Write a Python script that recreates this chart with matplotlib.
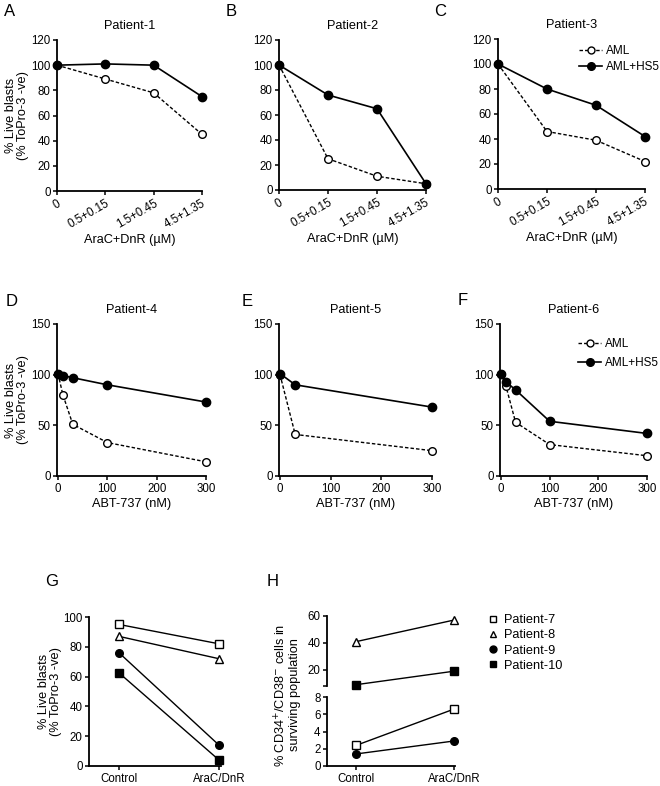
import numpy as np
import matplotlib
matplotlib.use("Agg")
import matplotlib.pyplot as plt
from matplotlib.lines import Line2D

plt.rcParams['font.family'] = ['Liberation Sans', 'DejaVu Sans']
plt.rcParams['font.size'] = 8.3
plt.rcParams['axes.linewidth'] = 1.3
plt.rcParams['xtick.major.width'] = 1.1
plt.rcParams['ytick.major.width'] = 1.1
plt.rcParams['xtick.major.size'] = 3
plt.rcParams['ytick.major.size'] = 3
plt.rcParams['xtick.major.pad'] = 2
plt.rcParams['ytick.major.pad'] = 1.5

# AraC+DnR dose response (panels A-C)
dose_labels = ['0', '0.5+0.15', '1.5+0.45', '4.5+1.35']
aml_p1 = [100, 89, 78, 45]
hs5_p1 = [100, 101, 100, 75]
aml_p2 = [100, 25, 11, 5]
hs5_p2 = [100, 76, 65, 5]
aml_p3 = [100, 46, 39, 22]
hs5_p3 = [100, 80, 67, 42]

# ABT-737 dose response (panels D-F)
abt_p4 = [0, 10, 30, 100, 300]
aml_p4 = [101, 80, 51, 33, 14]
hs5_p4 = [101, 99, 97, 90, 73]
abt_p5 = [0, 30, 300]
aml_p5 = [100, 41, 25]
hs5_p5 = [101, 90, 68]
abt_p6 = [0, 10, 30, 100, 300]
aml_p6 = [101, 89, 53, 31, 20]
hs5_p6 = [101, 93, 85, 54, 42]

# panels G and H
conditions = ['Control', 'AraC/DnR']
patients = ['Patient-7', 'Patient-8', 'Patient-9', 'Patient-10']
live_blasts = [[95, 82], [87, 72], [76, 14], [62.5, 4]]
cd34_cd38 = [[2.4, 6.6], [41, 57], [1.4, 2.9], [9, 19]]

W, H = 660, 786
fig = plt.figure(figsize=(W / 100, H / 100), dpi=100)


def box(l, t, r, b):
    return [l / W, 1 - b / H, (r - l) / W, (b - t) / H]


def style(ax):
    ax.spines['top'].set_visible(False)
    ax.spines['right'].set_visible(False)
    ax.tick_params(direction='out', colors='black')


def plot_pair(ax, x, aml, hs5):
    ax.plot(x, aml, ls=(0, (2.5, 1.5)), color='black', lw=1.0, marker='o', ms=5.5,
            mfc='white', mec='black', mew=1.0, clip_on=False, zorder=3)
    ax.plot(x, hs5, ls='-', color='black', lw=1.2, marker='o', ms=6,
            mfc='black', mec='black', clip_on=False, zorder=4)


def add_legend(ax, loc_xy, spacing):
    handles = [Line2D([], [], ls=(0, (2.5, 1.5)), color='black', lw=1.0, marker='o', ms=5,
                      mfc='white', mec='black'),
               Line2D([], [], ls='-', color='black', lw=1.2, marker='o', ms=5.5,
                      mfc='black', mec='black')]
    ax.legend(handles, ['AML', 'AML+HS5'], loc='upper left', bbox_to_anchor=loc_xy,
              bbox_transform=fig.transFigure, frameon=False, handlelength=2.0,
              handletextpad=0.3, labelspacing=spacing, fontsize=8.5, borderaxespad=0)


ylabel = '% Live blasts\n(% ToPro-3 -ve)'

# top row
top_boxes = [box(57, 40, 202, 191), box(279, 40, 426, 190), box(498, 39, 645, 189)]
top_data = [(aml_p1, hs5_p1), (aml_p2, hs5_p2), (aml_p3, hs5_p3)]
for i, (b, (aml, hs5)) in enumerate(zip(top_boxes, top_data)):
    ax = fig.add_axes(b)
    style(ax)
    plot_pair(ax, range(4), aml, hs5)
    ax.set_xlim(0, 3)
    ax.set_ylim(0, 120)
    ax.set_yticks(range(0, 121, 20))
    ax.set_xticks(range(4))
    ax.set_xticklabels(dose_labels, rotation=30, ha='right', rotation_mode='anchor')
    ax.set_xlabel('AraC+DnR (\u00b5M)', fontsize=9.2, labelpad=2)
    ax.set_title('Patient-%d' % (i + 1), fontsize=9.2, pad=8)
    if i == 0:
        ax.set_ylabel(ylabel, fontsize=9.2, labelpad=2, linespacing=1.0)
    if i == 2:
        add_legend(ax, (574 / W, 1 - 40 / H), 0.4)

# middle row
mid_boxes = [box(57, 324, 206, 476), box(279, 324, 432, 476), box(500, 324, 647, 476)]
mid_data = [(abt_p4, aml_p4, hs5_p4), (abt_p5, aml_p5, hs5_p5), (abt_p6, aml_p6, hs5_p6)]
for i, (b, (x, aml, hs5)) in enumerate(zip(mid_boxes, mid_data)):
    ax = fig.add_axes(b)
    style(ax)
    plot_pair(ax, x, aml, hs5)
    ax.set_xlim(-2, 300)
    ax.set_ylim(0, 150)
    ax.set_yticks([0, 50, 100, 150])
    ax.set_xticks([0, 100, 200, 300])
    ax.set_xlabel('ABT-737 (nM)', fontsize=9.2, labelpad=2)
    ax.set_title('Patient-%d' % (i + 4), fontsize=9.2, pad=8)
    if i == 0:
        ax.set_ylabel(ylabel, fontsize=9.2, labelpad=2, linespacing=1.0)
    if i == 2:
        add_legend(ax, (573 / W, 1 - 333 / H), 0.6)

# panel G
marker_styles = [dict(marker='s', mfc='white'), dict(marker='^', mfc='white'),
                 dict(marker='o', mfc='black'), dict(marker='s', mfc='black')]
axg = fig.add_axes(box(89, 617, 221, 766))
style(axg)
for vals, ms in zip(live_blasts, marker_styles):
    axg.plot([0, 1], vals, color='black', lw=1.0, ms=5.5, mec='black', mew=1.0,
             clip_on=False, **ms)
axg.set_xlim(-0.3, 1.02)
axg.set_ylim(0, 100)
axg.set_yticks(range(0, 101, 20))
axg.set_xticks([0, 1])
axg.set_xticklabels(conditions)
axg.set_ylabel(ylabel, fontsize=9.2, labelpad=1, linespacing=1.0)

# panel H (broken y axis): top segment holds patients 8 and 10, bottom 7 and 9
axh_top = fig.add_axes(box(327, 616, 455, 686))
axh_bot = fig.add_axes(box(327, 697, 455, 766))
for ax, idx in ((axh_top, [1, 3]), (axh_bot, [0, 2])):
    style(ax)
    for k in idx:
        ax.plot([0, 1], cd34_cd38[k], color='black', lw=1.0, ms=5.5, mec='black', mew=1.0,
                clip_on=False, **marker_styles[k])
    ax.set_xlim(-0.3, 1.01)
axh_top.set_ylim(8, 60)
axh_top.set_yticks([8, 20, 40, 60])
axh_top.set_yticklabels(['', '20', '40', '60'])
axh_top.spines['bottom'].set_visible(False)
axh_top.tick_params(axis='x', which='both', bottom=False, labelbottom=False)
axh_bot.set_ylim(0, 8)
axh_bot.set_yticks(range(0, 9, 2))
axh_bot.set_xticks([0, 1])
axh_bot.set_xticklabels(conditions)
fig.text(287 / W, 1 - 695 / H, '% CD34$^{+}$/CD38$^{-}$ cells in\nsurviving population',
         rotation=90, ha='center', va='center', fontsize=9.2, linespacing=1.0)

leg_handles = [Line2D([], [], ls='none', color='black', ms=5, mec='black', **ms)
               for ms in marker_styles]
axh_bot.legend(leg_handles, patients, loc='upper left', bbox_to_anchor=(481 / W, 1 - 609 / H),
               bbox_transform=fig.transFigure, frameon=False, handlelength=1.0,
               handletextpad=0.4, labelspacing=0.25, fontsize=9.2, borderaxespad=0)

# panel letters
letters = [('A', 10, 12), ('B', 231, 12), ('C', 440, 12), ('D', 12, 302), ('E', 247, 302),
           ('F', 463, 301), ('G', 52, 582), ('H', 273, 582)]
for s, x, y in letters:
    fig.text(x / W, 1 - y / H, s, fontsize=12, ha='center', va='center')

fig.savefig('out.png', dpi=100)
